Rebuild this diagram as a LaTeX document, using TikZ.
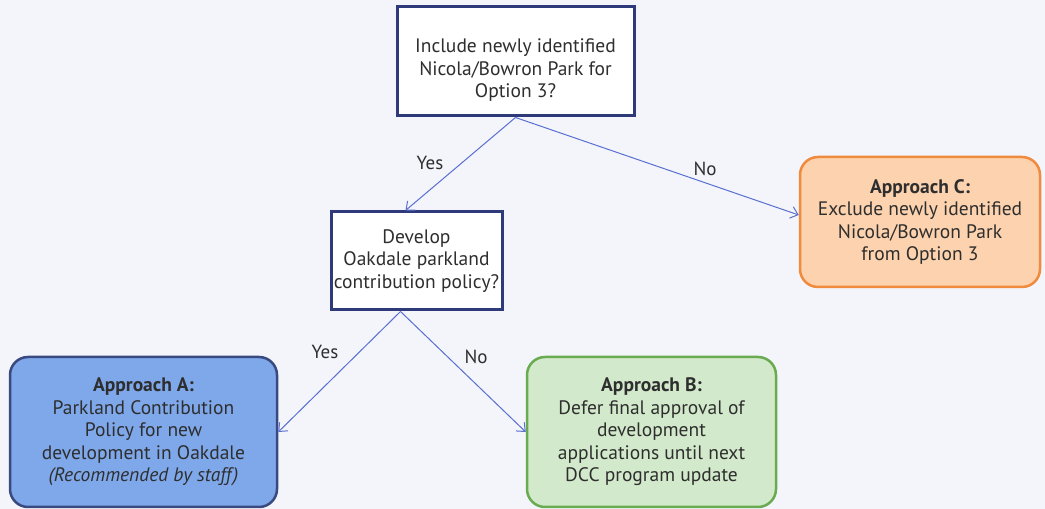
\documentclass[tikz,border=0pt]{standalone}
\usepackage{fontspec}
\setmainfont{PT Sans}
\usetikzlibrary{arrows.meta,calc}
\definecolor{bg}{HTML}{F3F5FB}
\definecolor{navy}{HTML}{2E3A7A}
\definecolor{arrowblue}{HTML}{5A6FD0}
\definecolor{orangeb}{HTML}{F08A3C}
\definecolor{orangef}{HTML}{FCD3AE}
\definecolor{bluef}{HTML}{7EA8EA}
\definecolor{blueb}{HTML}{3A4A80}
\definecolor{greenb}{HTML}{6AAA50}
\definecolor{greenf}{HTML}{D2EACB}
\definecolor{txt}{HTML}{2E2E2E}
\tikzset{
  qbox/.style={draw=navy, line width=3pt, fill=white, align=center, text=txt, font=\fontsize{19.5}{22.5}\selectfont, inner sep=0pt},
  abox/.style={rounded corners=18pt, line width=2.5pt, align=center, text=txt, font=\fontsize{19.5}{22.5}\selectfont, inner sep=0pt},
  conn/.style={draw=arrowblue, line width=1pt, -{Straight Barb[length=7pt,width=12pt,line width=1pt]}},
  lbl/.style={text=txt, font=\fontsize{19}{22}\selectfont}
}
\begin{document}
\begin{tikzpicture}[x=1pt,y=1pt]
\fill[bg] (0,0) rectangle (1045,509);
\useasboundingbox (0,0) rectangle (1045,509);
\node[qbox, minimum width=237pt, minimum height=109pt] (top) at (515.5,447.5)
  {\rule{0pt}{31pt}Include newly identified\\Nicola/Bowron Park for\\Option 3?};
\node[qbox, minimum width=171pt, minimum height=98pt] (q2) at (416.5,248)
  {Develop\\Oakdale parkland\\contribution policy?};
\node[abox, draw=orangeb, fill=orangef, minimum width=240pt, minimum height=130pt] (C) at (920,287)
  {\textbf{Approach C:}\\Exclude newly identified\\Nicola/Bowron Park\\from Option 3};
\node[abox, draw=blueb, fill=bluef, minimum width=267pt, minimum height=150pt] (A) at (143.5,77)
  {\textbf{Approach A:}\\Parkland Contribution\\Policy for new\\development in Oakdale\\\textit{(Recommended by staff)}};
\node[abox, draw=greenb, fill=greenf, minimum width=249pt, minimum height=150pt] (B) at (651.5,77)
  {\textbf{Approach B:}\\Defer final approval of\\development\\applications until next\\DCC program update};
\coordinate (topout) at (top.south);
\coordinate (q2in) at ([xshift=-11pt]q2.north);
\coordinate (Cin) at ([yshift=7pt]C.west);
\coordinate (q2out) at ([xshift=-16pt]q2.south);
\draw[conn] (topout) -- (q2in);
\draw[conn] (topout) -- (Cin);
\draw[conn] (q2out) -- (A.east);
\draw[conn] (q2out) -- (B.west);
\node[lbl] (yes1) at (430,346) {Yes};
\node[lbl] (no1) at (705,340) {No};
\node[lbl] (yes2) at (325,157) {Yes};
\node[lbl] (no2) at (476,152) {No};
\end{tikzpicture}
\end{document}
